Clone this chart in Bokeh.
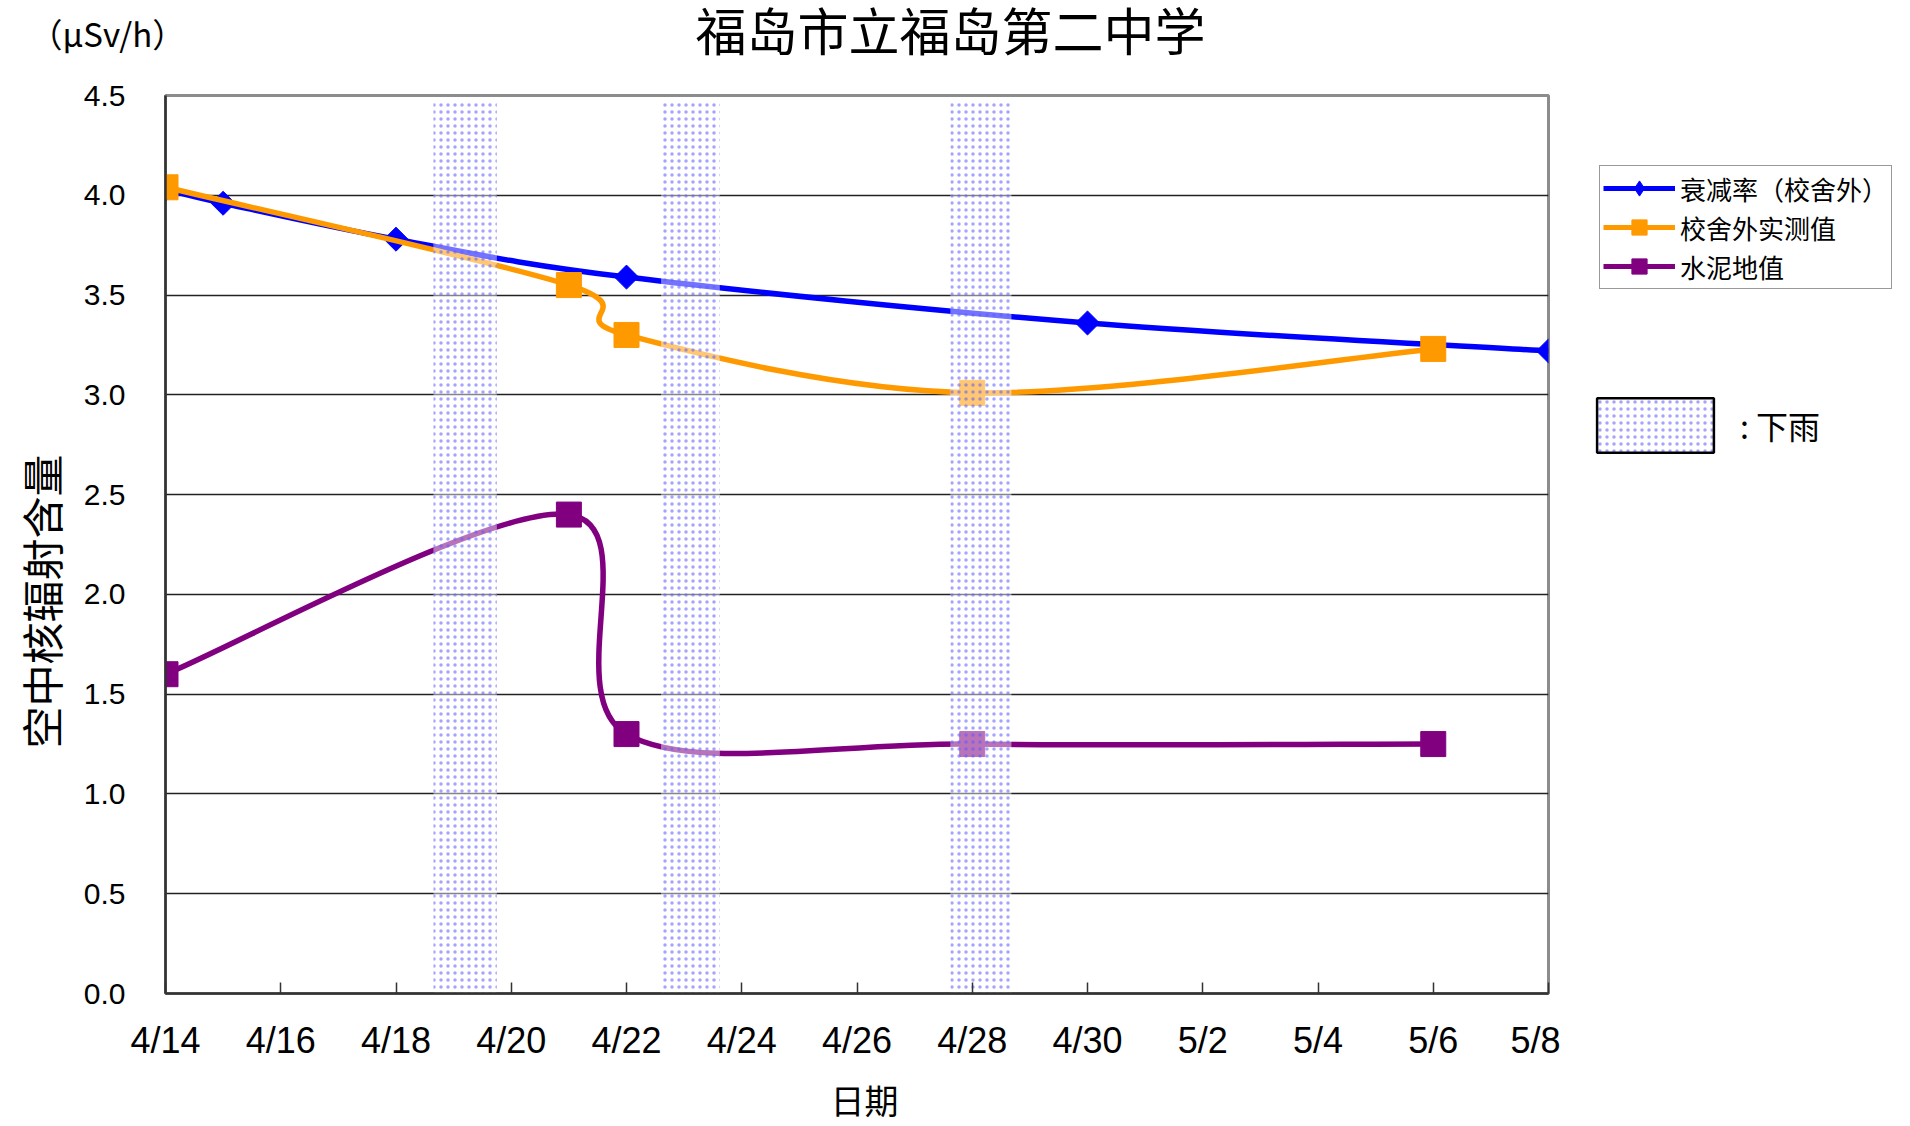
import math
from datetime import date
from bokeh.plotting import figure
from bokeh.layouts import column, row
from bokeh.models import (Range1d, FixedTicker, Legend, LegendItem,
                          ColumnDataSource, NumeralTickFormatter)
from bokeh.core.properties import value
from bokeh.embed import file_html
from bokeh.resources import INLINE

# ---------------- data ----------------
title_text = "福岛市立福岛第二中学"
unit_text = "（μSv/h）"
y_label_text = "空中核辐射含量"
x_label_text = "日期"

series_names = ["衰减率（校舍外）", "校舍外实测值", "水泥地值"]

decay_dates = ["4/14", "4/15", "4/18", "4/22", "4/30", "5/8"]
decay_values = [4.03, 3.96, 3.78, 3.59, 3.36, 3.22]

outdoor_dates = ["4/14", "4/21", "4/22", "4/28", "5/6"]
outdoor_values = [4.04, 3.55, 3.30, 3.01, 3.23]

concrete_dates = ["4/14", "4/21", "4/22", "4/28", "5/6"]
concrete_values = [1.60, 2.40, 1.30, 1.25, 1.25]

# rain periods (start / end, in fractional days)
rain_start = ["4/18.65", "4/22.6", "4/27.62"]
rain_end = ["4/19.75", "4/23.62", "4/28.68"]
rain_label = ": 下雨"

x_tick_labels = ["4/14", "4/16", "4/18", "4/20", "4/22", "4/24", "4/26",
                 "4/28", "4/30", "5/2", "5/4", "5/6", "5/8"]
y_ticks = [0.0, 0.5, 1.0, 1.5, 2.0, 2.5, 3.0, 3.5, 4.0, 4.5]

BASE = date(2011, 4, 14)


def day_of(s):
    m, d = s.split("/")
    dd = float(d)
    whole = int(dd)
    return (date(2011, int(m), whole) - BASE).days + (dd - whole)


def bezier_cps(xs, ys):
    """Catmull-Rom style control points (Excel smoothed line)."""
    n = len(xs)
    out = dict(x0=[], y0=[], x1=[], y1=[], cx0=[], cy0=[], cx1=[], cy1=[])
    for i in range(n - 1):
        p0 = (xs[max(i - 1, 0)], ys[max(i - 1, 0)])
        p1 = (xs[i], ys[i])
        p2 = (xs[i + 1], ys[i + 1])
        p3 = (xs[min(i + 2, n - 1)], ys[min(i + 2, n - 1)])
        out["x0"].append(p1[0]); out["y0"].append(p1[1])
        out["x1"].append(p2[0]); out["y1"].append(p2[1])
        out["cx0"].append(p1[0] + (p2[0] - p0[0]) / 6.0)
        out["cy0"].append(p1[1] + (p2[1] - p0[1]) / 6.0)
        out["cx1"].append(p2[0] - (p3[0] - p1[0]) / 6.0)
        out["cy1"].append(p2[1] - (p3[1] - p1[1]) / 6.0)
    return out


FONT_CJK = "Noto Sans CJK SC"
W, H = 1908, 1124
FRAME_TOP = 95            # plot frame top (absolute)
TOPB = 22                 # border above frame inside the row
HEAD = FRAME_TOP - TOPB   # header height
FRAME_H = 898             # plot frame height (bottom at y=993)
BOT = 75                  # space below frame for tick labels
ROW_H = TOPB + FRAME_H + BOT
FOOT = H - HEAD - ROW_H
FRAME_BOTTOM = FRAME_TOP + FRAME_H
LEFT_W = 80
MAIN_W = 1480
SIDE_W = W - LEFT_W - MAIN_W
SIDE_X = LEFT_W + MAIN_W


def blank(width, height, bottom=0, top=0):
    f = figure(width=width, height=height, output_backend="svg",
               toolbar_location=None, x_axis_type=None, y_axis_type=None,
               x_range=Range1d(0, width), y_range=Range1d(0, height - bottom - top),
               min_border=0, min_border_bottom=bottom, min_border_top=top)
    f.outline_line_color = None
    f.background_fill_color = "white"
    f.border_fill_color = "white"
    return f


# ---- header: title and unit ----
head = blank(W, HEAD)
head.text(x=[950], y=[HEAD - 28], text=[title_text], text_font=value(FONT_CJK),
          text_font_size="51px", text_align="center", text_baseline="middle",
          text_color="black")
head.text(x=[29], y=[HEAD - 32], text=[unit_text], text_font=value(FONT_CJK),
          text_font_size="33px", text_align="left", text_baseline="middle",
          text_color="black")

# ---- left: y label ----
left = blank(LEFT_W, ROW_H, BOT, TOPB)
left.text(x=[40], y=[FRAME_BOTTOM - 601], text=[y_label_text],
          text_font=value(FONT_CJK), text_font_size="42px", angle=math.pi / 2,
          text_align="center", text_baseline="middle", text_color="black")

# ---- footer: x label ----
foot = blank(W, FOOT)
foot.text(x=[864], y=[H - 1099], text=[x_label_text], text_font=value(FONT_CJK),
          text_font_size="34px", text_align="center", text_baseline="middle",
          text_color="black")

# ---- main chart ----
p = figure(width=MAIN_W, height=ROW_H, output_backend="svg", toolbar_location=None,
           x_range=Range1d(0, 24), y_range=Range1d(0, 4.5),
           min_border_left=85, min_border_right=12,
           min_border_top=TOPB, min_border_bottom=BOT)
p.background_fill_color = "white"
p.border_fill_color = "white"
p.outline_line_color = "#8c8c8c"
p.outline_line_width = 3

xt = [day_of(s) for s in x_tick_labels]
p.xaxis.ticker = FixedTicker(ticks=xt)
p.xaxis.major_label_overrides = {t: s for t, s in zip(xt, x_tick_labels)}
p.xaxis.major_label_text_font = "Liberation Sans"
p.xaxis.major_label_text_font_size = "36px"
p.xaxis.major_label_text_color = "black"
p.xaxis.major_label_standoff = 26
p.xaxis.major_tick_in = 11
p.xaxis.major_tick_out = 0
p.xaxis.minor_tick_line_color = None
p.xaxis.axis_line_color = "#333333"
p.xaxis.axis_line_width = 2.5
p.xaxis.major_tick_line_color = "#333333"
p.xaxis.major_tick_line_width = 1.5

p.yaxis.ticker = FixedTicker(ticks=y_ticks)
p.yaxis.formatter = NumeralTickFormatter(format="0.0")
p.yaxis.major_label_text_font = "Liberation Sans"
p.yaxis.major_label_text_font_size = "30px"
p.yaxis.major_label_text_color = "black"
p.yaxis.major_label_standoff = 40
p.yaxis.major_tick_in = 0
p.yaxis.major_tick_out = 0
p.yaxis.minor_tick_line_color = None
p.yaxis.axis_line_color = "#333333"
p.yaxis.axis_line_width = 2.5

p.xgrid.grid_line_color = None
p.ygrid.grid_line_color = "#222222"
p.ygrid.grid_line_width = 1.5

colors = ["#0000FF", "#FF9900", "#800080"]
all_series = [(decay_dates, decay_values), (outdoor_dates, outdoor_values),
              (concrete_dates, concrete_values)]

# ---- side: legends ----
side = blank(SIDE_W, ROW_H, BOT, TOPB)
NAN = [float("nan")]
items = []
for k, ((ds, vs), col, name) in enumerate(zip(all_series, colors, series_names)):
    xs = [day_of(s) for s in ds]
    src = ColumnDataSource(bezier_cps(xs, vs))
    p.bezier(x0="x0", y0="y0", x1="x1", y1="y1", cx0="cx0", cy0="cy0",
             cx1="cx1", cy1="cy1", source=src, line_color=col, line_width=5.5)
    lr = side.line(NAN, NAN, line_color=col, line_width=5)
    if k == 0:
        p.scatter(xs, vs, marker="square", angle=math.pi / 4, size=17,
                  fill_color=col, line_color=col)
        sr = side.scatter(NAN, NAN, marker="diamond", size=23,
                          fill_color=col, line_color=col)
    else:
        p.scatter(xs, vs, marker="square", size=25, fill_color=col, line_color=col)
        sr = side.scatter(NAN, NAN, marker="square", size=23,
                          fill_color=col, line_color=col)
    items.append(LegendItem(label=name, renderers=[lr, sr]))

# rain bands (drawn over the lines)
HATCH = dict(hatch_pattern="dot", hatch_color="#5a5aff", hatch_alpha=0.55,
             hatch_scale=7, hatch_weight=1.0)
rsrc = ColumnDataSource(dict(left=[day_of(s) for s in rain_start],
                             right=[day_of(s) for s in rain_end]))
p.quad(left="left", right="right", top=4.47, bottom=0, source=rsrc,
       fill_color="white", fill_alpha=0.45, line_color=None, **HATCH)
rain_proxy = side.quad(left=NAN, right=NAN, top=NAN, bottom=NAN,
                       fill_color="white", line_color="black", line_width=2.5,
                       **HATCH)

LEG_H = 121
legend = Legend(items=items, location=(1599 - SIDE_X, FRAME_BOTTOM - (168 + LEG_H)))
legend.label_text_font = FONT_CJK
legend.label_text_font_size = "26px"
legend.label_text_color = "black"
legend.glyph_width = 72
legend.glyph_height = 38
legend.label_height = 30
legend.label_standoff = 5
legend.spacing = 1
legend.padding = 3
legend.margin = 0
legend.border_line_color = "#333333"
legend.border_line_width = 1.5
legend.background_fill_color = "white"
legend.background_fill_alpha = 1
side.add_layout(legend, "center")

legend2 = Legend(items=[LegendItem(label=rain_label, renderers=[rain_proxy])],
                 location=(1582 - SIDE_X, FRAME_BOTTOM - 459))
legend2.label_text_font = FONT_CJK
legend2.label_text_font_size = "32px"
legend2.label_text_color = "black"
legend2.glyph_width = 146
legend2.glyph_height = 68
legend2.label_height = 68
legend2.label_standoff = 12
legend2.padding = 0
legend2.margin = 0
legend2.border_line_color = None
legend2.background_fill_alpha = 0
side.add_layout(legend2, "center")

layout = column(head, row(left, p, side, spacing=0), foot, spacing=0)
open("out.html", "w").write(file_html(layout, INLINE))
